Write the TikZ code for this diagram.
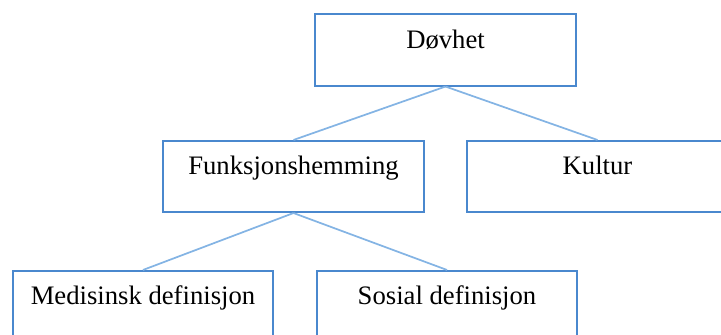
\documentclass[tikz,border=0pt]{standalone}
\usepackage{fontspec}
\setmainfont{Liberation Serif}
\definecolor{boxblue}{RGB}{74,136,206}
\definecolor{lineblue}{RGB}{132,180,228}
\tikzset{
    boks/.style={draw=boxblue, line width=1.3pt, rectangle, inner sep=0pt,
        minimum width=195.5pt, text height=25.5pt, text depth=28pt,
        font=\fontsize{20}{24}\selectfont, align=center},
    kant/.style={draw=lineblue, line width=1.3pt}
}
\begin{document}
\begin{tikzpicture}[x=0.75pt, y=-0.75pt]
    % ramme (721 x 335)
    \useasboundingbox (0,0) rectangle (721,335);
    \clip (0,0) rectangle (721,335);

    % bokser
    \node[boks] (dovhet) at (445.5,50) {Døvhet};
    \node[boks] (funksjon) at (293.5,176.5) {Funksjonshemming};
    \node[boks] (kultur) at (597.5,176.5) {Kultur};
    \node[boks] (medisinsk) at (143,306.5) {Medisinsk definisjon};
    \node[boks] (sosial) at (447,306.5) {Sosial definisjon};

    % linjer
    \draw[kant] (dovhet.south) -- (funksjon.north);
    \draw[kant] (dovhet.south) -- (kultur.north);
    \draw[kant] (funksjon.south) -- (medisinsk.north);
    \draw[kant] (funksjon.south) -- (sosial.north);
\end{tikzpicture}
\end{document}
